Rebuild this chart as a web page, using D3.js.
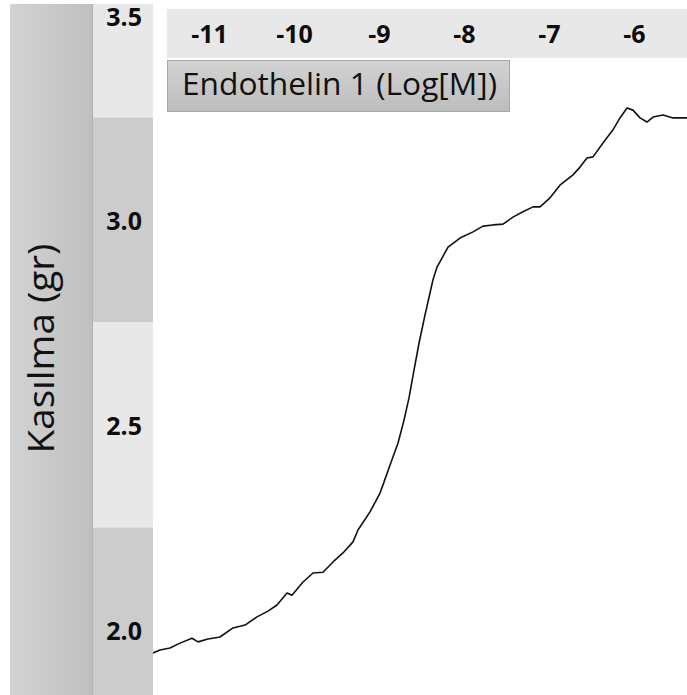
<!DOCTYPE html>
<html>
<head>
<meta charset="utf-8">
<script src="https://cdn.jsdelivr.net/npm/d3@7/dist/d3.min.js"></script>
<style>
  html, body { margin: 0; padding: 0; background: #fff; }
  svg { display: block; }
</style>
</head>
<body>
<svg id="chart" width="687" height="695"></svg>
<script>
// ---- data ----
const xTicks = [-11, -10, -9, -8, -7, -6];
const yTicks = [3.5, 3.0, 2.5, 2.0];
const xLabel = "Endothelin 1 (Log[M])";
const yLabel = "Kasılma (gr)";
// log concentration (Log[M])
const logConc = [-11.659, -11.576, -11.459, -11.341, -11.200, -11.129, -11.012, -10.871, -10.718, -10.576,
  -10.435, -10.306, -10.200, -10.082, -10.024, -9.894, -9.776, -9.659, -9.541, -9.424,
  -9.306, -9.247, -9.106, -8.988, -8.953, -8.871, -8.776, -8.706, -8.647, -8.588,
  -8.529, -8.459, -8.400, -8.365, -8.318, -8.259, -8.188, -8.047, -7.894, -7.776,
  -7.659, -7.541, -7.424, -7.306, -7.188, -7.106, -6.988, -6.871, -6.718, -6.635,
  -6.553, -6.482, -6.365, -6.247, -6.165, -6.082, -6.012, -5.929, -5.847, -5.776,
  -5.659, -5.541, -5.376];
// contraction (gr)
const contraction = [1.944, 1.951, 1.956, 1.968, 1.980, 1.971, 1.978, 1.983, 2.005, 2.012,
  2.032, 2.046, 2.061, 2.090, 2.085, 2.117, 2.139, 2.141, 2.166, 2.188,
  2.215, 2.244, 2.288, 2.334, 2.354, 2.402, 2.456, 2.512, 2.566, 2.634,
  2.700, 2.768, 2.822, 2.854, 2.885, 2.907, 2.934, 2.956, 2.971, 2.985,
  2.988, 2.990, 3.007, 3.020, 3.032, 3.032, 3.054, 3.085, 3.110, 3.129,
  3.151, 3.154, 3.188, 3.220, 3.249, 3.273, 3.268, 3.249, 3.239, 3.251,
  3.256, 3.249, 3.249];

// ---- layout ----
const W = 687, H = 695;
const svg = d3.select("#chart");
const defs = svg.append("defs");

const x = d3.scaleLinear().domain([-11, -6]).range([209, 634]);
const y = d3.scaleLinear().domain([2.0, 3.5]).range([630, 15]);

const plotLeft = 153, plotRight = 687, plotTop = 4, plotBottom = 695;

// gradients
const g1 = defs.append("linearGradient").attr("id", "stripGrad").attr("x1", 0).attr("x2", 1).attr("y1", 0).attr("y2", 0);
g1.append("stop").attr("offset", "0%").attr("stop-color", "#d3d3d3");
g1.append("stop").attr("offset", "100%").attr("stop-color", "#bfbfbf");
const g2 = defs.append("linearGradient").attr("id", "boxGrad").attr("x1", 0).attr("x2", 0).attr("y1", 0).attr("y2", 1);
g2.append("stop").attr("offset", "0%").attr("stop-color", "#d2d2d2");
g2.append("stop").attr("offset", "100%").attr("stop-color", "#bdbdbd");

// left title strip
svg.append("rect").attr("x", 10).attr("y", plotTop).attr("width", 82).attr("height", plotBottom - plotTop)
  .attr("fill", "url(#stripGrad)");
svg.append("line").attr("x1", 92.5).attr("x2", 92.5).attr("y1", plotTop).attr("y2", plotBottom)
  .attr("stroke", "#b2b2b2").attr("stroke-width", 1);

// y tick bands
const bandG = svg.append("g");
yTicks.forEach((t, i) => {
  const top = Math.max(plotTop, y(t + 0.25));
  const bot = Math.min(plotBottom, y(t - 0.25));
  bandG.append("rect").attr("x", 93).attr("width", plotLeft - 93)
    .attr("y", top).attr("height", bot - top)
    .attr("fill", i % 2 === 0 ? "#e8e8e8" : "#cccccc");
});

// y axis labels
const yAxis = d3.axisLeft(y).tickValues(yTicks).tickFormat(d3.format(".1f")).tickSize(0).tickPadding(0);
const yAxisG = svg.append("g").attr("transform", "translate(142,0)").call(yAxis);
yAxisG.select(".domain").remove();
yAxisG.selectAll("text").attr("font-family", "'Open Sans', sans-serif").attr("font-size", 25)
  .attr("font-weight", "bold").attr("fill", "#0d0d0d").attr("dy", "0.36em");
yAxisG.selectAll(".tick").filter(d => d === 3.5).select("text").attr("dy", "0.42em");

// y title
svg.append("text").attr("transform", "translate(54,348.5) rotate(-90)")
  .attr("text-anchor", "middle").attr("font-family", "'Open Sans', sans-serif")
  .attr("font-size", 36).attr("fill", "#111")
  .attr("textLength", 210).attr("lengthAdjust", "spacingAndGlyphs")
  .text(yLabel);

// top axis band
svg.append("rect").attr("x", 167).attr("y", 9).attr("width", 687 - 167).attr("height", 49).attr("fill", "#e8e8e8");
const xAxis = d3.axisTop(x).tickValues(xTicks).tickFormat(d => d3.format("d")(d).replace("−", "-")).tickSize(0).tickPadding(0);
const xAxisG = svg.append("g").attr("transform", "translate(0,34)").call(xAxis);
xAxisG.select(".domain").remove();
xAxisG.selectAll("text").attr("font-family", "'Open Sans', sans-serif").attr("font-size", 25)
  .attr("font-weight", "bold").attr("fill", "#0d0d0d").attr("dy", "0.36em");

// x title box
svg.append("rect").attr("x", 167.5).attr("y", 60.5).attr("width", 342).attr("height", 51)
  .attr("fill", "url(#boxGrad)").attr("stroke", "#a6a6a6").attr("stroke-width", 1);
svg.append("text").attr("x", 182).attr("y", 95).attr("font-family", "'Open Sans', sans-serif")
  .attr("font-size", 31).attr("fill", "#111")
  .attr("textLength", 315).attr("lengthAdjust", "spacingAndGlyphs")
  .text(xLabel);

// data line
defs.append("clipPath").attr("id", "plotClip").append("rect")
  .attr("x", plotLeft).attr("y", 0).attr("width", plotRight - plotLeft).attr("height", H);
const pts = logConc.map((c, i) => [c, contraction[i]]);
const line = d3.line().x(d => x(d[0])).y(d => y(d[1]));
svg.append("path").datum(pts).attr("clip-path", "url(#plotClip)")
  .attr("d", line).attr("fill", "none").attr("stroke", "#111").attr("stroke-width", 1.6)
  .attr("stroke-linejoin", "round");
</script>
</body>
</html>
